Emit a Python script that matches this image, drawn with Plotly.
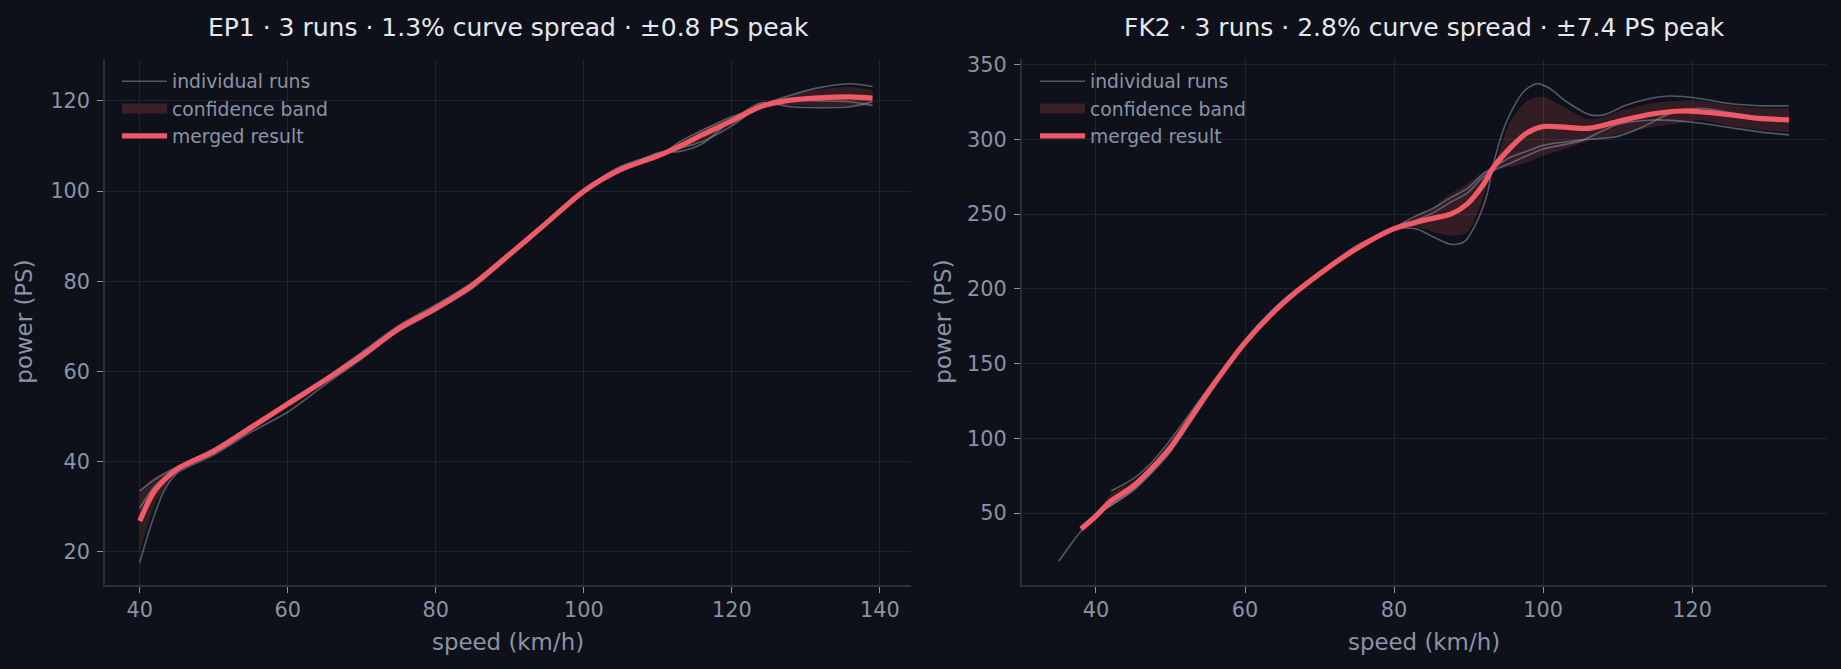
import plotly.graph_objects as go

# ---------------- data: EP1 (left panel) ----------------
ep1_x = [40, 42, 45, 50, 55, 60, 65, 70, 75, 80, 85, 90, 95, 100, 105, 110, 113, 116, 120, 124, 128, 132, 136, 139]
ep1_run_a = [33.5, 36.0, 38.8, 42.8, 48.0, 53.3, 58.5, 64.3, 70.2, 74.8, 79.8, 86.5, 93.3, 100.3, 105.5, 108.2, 109.5, 111.0, 114.5, 119.0, 121.3, 123.0, 123.8, 123.2]
ep1_run_b = [29.7, 34.5, 38.5, 42.8, 48.0, 53.0, 58.0, 63.5, 69.0, 73.5, 79.0, 86.0, 93.0, 100.0, 104.5, 108.5, 108.8, 110.5, 115.8, 119.6, 118.7, 118.5, 118.7, 119.8]
ep1_run_c_x = [40, 41.4, 43.2, 45, 50, 55, 60, 65, 70, 75, 80, 85, 90, 95, 100, 105, 110, 113, 116, 120, 124, 128, 132, 136, 139]
ep1_run_c = [17.6, 25.3, 33.3, 37.4, 41.5, 46.5, 51.0, 57.0, 62.8, 69.0, 73.5, 78.5, 85.5, 92.5, 99.5, 104.5, 107.5, 111.0, 113.5, 116.5, 118.5, 120.0, 120.0, 119.8, 119.0]
ep1_merged = [26.8, 33.5, 38.3, 42.3, 47.5, 52.8, 58.0, 63.5, 69.5, 74.0, 79.2, 86.0, 93.0, 100.0, 104.8, 107.8, 110.0, 112.5, 115.6, 118.8, 120.2, 120.7, 120.9, 120.6]
ep1_band_lo = [20.0, 30.3, 37.7, 41.7, 46.9, 52.1, 57.4, 62.8, 68.8, 73.4, 78.6, 85.4, 92.4, 99.4, 104.2, 107.3, 109.1, 111.2, 114.8, 118.3, 119.1, 118.8, 118.7, 118.8]
ep1_band_hi = [33.6, 36.5, 38.9, 42.9, 48.1, 53.5, 58.6, 64.2, 70.2, 74.6, 79.8, 86.6, 93.6, 100.6, 105.4, 108.3, 110.9, 113.8, 116.4, 119.3, 121.3, 122.6, 123.1, 122.4]

# ---------------- data: FK2 (right panel) ----------------
fk2_run_1_x = [35, 38, 40, 45, 47.5, 50, 55, 60, 65, 70, 75, 80, 83, 85.3, 87.6, 89.8, 92, 93.3, 95.6, 97.8, 100, 105, 110, 115, 120, 125, 129, 133]
fk2_run_1 = [17.7, 38.0, 48.0, 66.0, 78.0, 92.0, 130.0, 164.0, 190.0, 210.0, 227.0, 240.0, 246.0, 251.0, 258.0, 264.0, 275.0, 279.0, 284.0, 289.0, 293.5, 299.0, 310.0, 313.0, 311.5, 308.0, 305.0, 303.0]
fk2_run_2_x = [42, 45, 47.5, 50, 55, 60, 65, 70, 75, 80, 83, 85.3, 87.6, 89.8, 92, 93.3, 95.6, 97.8, 100, 105, 110, 113.5, 116.6, 121, 125, 129, 133]
fk2_run_2 = [64.7, 73.0, 84.0, 99.0, 133.0, 166.0, 192.0, 211.0, 229.0, 241.0, 249.0, 254.0, 261.0, 267.0, 277.0, 281.0, 288.0, 292.0, 296.0, 299.5, 302.0, 308.6, 316.4, 320.8, 318.0, 315.0, 314.0]
fk2_run_3_x = [38, 40, 45, 47.5, 50, 55, 60, 65, 70, 75, 80, 83, 85.3, 87.6, 89.4, 91.2, 92.5, 93.3, 95.1, 97.4, 99.2, 100.9, 103.2, 106.3, 108.1, 111.2, 114.4, 117, 121, 125, 129, 133]
fk2_run_3 = [40.5, 48.5, 65.0, 77.0, 91.0, 128.0, 163.0, 189.0, 209.0, 227.0, 240.0, 240.0, 234.7, 229.8, 231.4, 245.7, 263.4, 283.0, 312.0, 332.0, 337.3, 334.0, 325.0, 316.4, 316.4, 323.0, 327.4, 329.0, 327.4, 324.0, 322.5, 322.5]
fk2_x = [38, 40, 42, 45, 47.5, 50, 55, 60, 65, 70, 75, 80, 83, 85.3, 87.6, 89.8, 92, 93.3, 95.6, 97.8, 100, 103.2, 106.3, 110, 114.4, 118.8, 121, 125, 129, 133]
fk2_merged = [39.3, 48.0, 58.0, 68.0, 80.0, 94.0, 130.5, 164.0, 190.0, 210.0, 227.0, 240.3, 244.6, 247.3, 250.0, 256.7, 270.0, 281.0, 294.3, 304.2, 308.6, 308.0, 307.5, 311.9, 316.8, 319.0, 318.5, 316.5, 314.0, 313.0]
fk2_band_lo = [38.0, 47.0, 54.0, 64.5, 76.6, 90.4, 128.3, 162.8, 188.8, 209.0, 226.0, 239.8, 241.3, 238.0, 235.6, 237.7, 261.5, 279.4, 281.5, 284.5, 289.0, 294.0, 299.0, 303.2, 308.0, 311.3, 313.0, 309.0, 306.5, 305.0]
fk2_band_hi = [40.5, 49.0, 63.0, 71.5, 82.8, 97.6, 132.3, 165.2, 191.2, 211.0, 228.0, 240.8, 248.7, 255.0, 263.6, 270.3, 278.5, 282.6, 311.9, 325.5, 328.4, 320.5, 313.5, 318.4, 324.0, 326.0, 326.0, 323.0, 321.0, 321.0]

titles = ["EP1 · 3 runs · 1.3% curve spread · ±0.8 PS peak",
          "FK2 · 3 runs · 2.8% curve spread · ±7.4 PS peak"]
x_label = "speed (km/h)"
y_label = "power (PS)"
ep1_xticks = [40, 60, 80, 100, 120, 140]
ep1_yticks = [20, 40, 60, 80, 100, 120]
fk2_xticks = [40, 60, 80, 100, 120]
fk2_yticks = [50, 100, 150, 200, 250, 300, 350]

# ---------------- style ----------------
W, H = 1841, 669
BG = "#0e1119"
GRID = "#1f2330"
SPINE = "#2a2f3d"
TICKC = "#8b93a7"
TITLEC = "#e6e8ee"
RUNC = "rgba(139,147,167,0.55)"
RED = "#f05a66"
BAND = "rgba(240,90,102,0.17)"
BAND_SWATCH = "#3a1f27"
FONT = "DejaVu Sans"

fig = go.Figure()


def add_panel(xa, ya, legend, runs, bx, lo, hi, merged):
    # band
    fig.add_trace(go.Scatter(x=bx, y=lo, mode="lines", line=dict(width=0, shape="spline", smoothing=0.8),
                             xaxis=xa, yaxis=ya, showlegend=False, hoverinfo="skip", legend=legend))
    fig.add_trace(go.Scatter(x=bx, y=hi, mode="lines", line=dict(width=0, shape="spline", smoothing=0.8),
                             fill="tonexty", fillcolor=BAND, xaxis=xa, yaxis=ya, name="confidence band",
                             showlegend=False, legend=legend))
    # legend-only swatch for the band
    fig.add_trace(go.Scatter(x=[None], y=[None], mode="lines", line=dict(color=BAND_SWATCH, width=14),
                             xaxis=xa, yaxis=ya, name="confidence band", showlegend=True,
                             legend=legend, legendrank=2, hoverinfo="skip"))
    for i, (rx, ry) in enumerate(runs):
        fig.add_trace(go.Scatter(x=rx, y=ry, mode="lines", line=dict(color=RUNC, width=1.6, shape="spline", smoothing=0.8),
                                 xaxis=xa, yaxis=ya, name="individual runs", showlegend=(i == 0),
                                 legend=legend, legendrank=1))
    fig.add_trace(go.Scatter(x=bx, y=merged, mode="lines", line=dict(color=RED, width=5.2, shape="spline", smoothing=0.8),
                             xaxis=xa, yaxis=ya, name="merged result", legend=legend, legendrank=3))


add_panel("x", "y", "legend",
          [(ep1_x, ep1_run_a), (ep1_x, ep1_run_b), (ep1_run_c_x, ep1_run_c)],
          ep1_x, ep1_band_lo, ep1_band_hi, ep1_merged)
add_panel("x2", "y2", "legend2",
          [(fk2_run_1_x, fk2_run_1), (fk2_run_2_x, fk2_run_2), (fk2_run_3_x, fk2_run_3)],
          fk2_x, fk2_band_lo, fk2_band_hi, fk2_merged)

L_dom = [105 / W, 911 / W]
R_dom = [1021.7 / W, 1827 / W]
Y_dom = [1 - 584 / H, 1 - 53 / H]

axis_common = dict(showgrid=True, gridcolor=GRID, gridwidth=1.2, zeroline=False,
                   showline=True, linecolor=SPINE, linewidth=1.5, mirror=False,
                   ticks="outside", ticklen=6, tickwidth=1.2, tickcolor=TICKC,
                   tickfont=dict(family=FONT, size=20.8, color=TICKC))

legend_common = dict(xanchor="left", yanchor="top", bgcolor="rgba(0,0,0,0)",
                     font=dict(family=FONT, size=18.75, color=TICKC), itemwidth=45,
                     traceorder="normal", tracegroupgap=0)

fig.update_layout(
    width=W, height=H,
    paper_bgcolor=BG, plot_bgcolor=BG,
    margin=dict(l=0, r=0, t=0, b=0),
    font=dict(family=FONT, color=TICKC),
    xaxis=dict(domain=L_dom, range=[35.3, 144.2], tickvals=ep1_xticks, anchor="y", **axis_common),
    yaxis=dict(domain=Y_dom, range=[12.68, 129.4], tickvals=ep1_yticks, anchor="x",
               ticklabelstandoff=3, **axis_common),
    xaxis2=dict(domain=R_dom, range=[30.03, 138.1], tickvals=fk2_xticks, anchor="y2", **axis_common),
    yaxis2=dict(domain=Y_dom, range=[2.0, 354.1], tickvals=fk2_yticks, anchor="x2",
                ticklabelstandoff=3, **axis_common),
    legend=dict(x=117 / W, y=1 - 57 / H, **legend_common),
    legend2=dict(x=1035 / W, y=1 - 57 / H, **legend_common),
    showlegend=True,
)

ann = []
for t, cx in zip(titles, [(105 + 911) / 2 / W, (1021.7 + 1827) / 2 / W]):
    ann.append(dict(text=t, x=cx, y=1 - 22 / H, xref="paper", yref="paper", showarrow=False,
                    xanchor="center", yanchor="middle", font=dict(family=FONT, size=25, color=TITLEC)))
for cx in [(105 + 911) / 2 / W, (1021.7 + 1827) / 2 / W]:
    ann.append(dict(text=x_label, x=cx, y=1 - 642 / H, xref="paper", yref="paper", showarrow=False,
                    xanchor="center", yanchor="middle", font=dict(family=FONT, size=22.9, color=TICKC)))
for lx in [24 / W, 943 / W]:
    ann.append(dict(text=y_label, x=lx, y=1 - 318.5 / H, xref="paper", yref="paper", showarrow=False,
                    textangle=-90, xanchor="center", yanchor="middle",
                    font=dict(family=FONT, size=22.9, color=TICKC)))
fig.update_layout(annotations=ann)

fig.write_html("out.html")
